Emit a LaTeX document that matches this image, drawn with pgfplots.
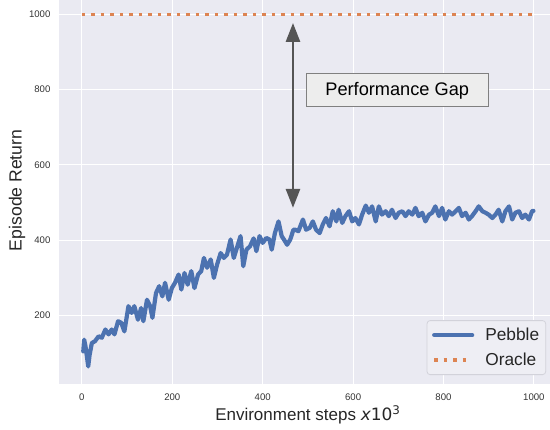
\documentclass[border=0pt]{standalone}
\usepackage{fontspec}
\setmainfont{Liberation Sans}
\newfontfamily\djv{DejaVu Sans}
\usepackage{pgfplots}
\pgfplotsset{compat=1.18}
\usetikzlibrary{arrows.meta}
\definecolor{bgc}{HTML}{EAEAF2}
\definecolor{pblue}{HTML}{4C72B0}
\definecolor{porange}{HTML}{DD8452}
\definecolor{agray}{HTML}{555555}
\definecolor{boxfill}{HTML}{EDEDED}
\definecolor{boxedge}{HTML}{808080}
\definecolor{legfill}{HTML}{EEEEF4}
\definecolor{legedge}{HTML}{D2D2DA}
\definecolor{tickc}{HTML}{333333}
\definecolor{labc}{HTML}{262626}
\begin{document}
\begin{tikzpicture}
\begin{axis}[
  at={(0,0)}, anchor=south west,
  scale only axis, width=497.2pt, height=387.3pt,
  xmin=-50, xmax=1050, ymin=18.3, ymax=1046.7,
  axis background/.style={fill=bgc},
  axis line style={draw=none},
  major tick length=0pt,
  grid=major, major grid style={white, line width=1.1pt},
  xtick={0,200,...,1000}, ytick={200,400,...,1000},
  tick label style={font=\fontsize{9.6}{11}\selectfont, text=tickc},
  /pgf/number format/assume math mode=true,
  /pgf/number format/1000 sep={},
  xticklabel style={yshift=-6pt},
  yticklabel style={xshift=-5.4pt},
  xlabel={Environment steps {\djv\itshape x}{\djv 10}\textsuperscript{\djv 3}},
  ylabel={Episode Return},
  xlabel style={font=\fontsize{17}{20}\selectfont, text=labc, at={(axis description cs:0.5,-0.0955)}, anchor=base},
  ylabel style={font=\fontsize{17.6}{20}\selectfont, text=labc, at={(axis description cs:-0.076,0.5)}, anchor=base},
  legend style={at={(axis description cs:0.979,0.0232)}, anchor=south east,
    fill=legfill, draw=legedge, line width=0.8pt, rounded corners=3pt,
    inner xsep=5pt, inner ysep=6.5pt, font=\fontsize{17.3}{20}\selectfont, text=labc,
    nodes={inner sep=1.5pt, text height=12pt, text depth=1pt}, row sep=9pt,
    /tikz/every odd column/.append style={column sep=9.5pt}},
  legend cell align=left,
  legend image code/.code={\draw[#1] (0pt,0pt) -- (38pt,0pt);},
]
\addplot[pblue, line width=4.2pt, line join=round, line cap=round] coordinates {
(3,105) (5,136) (8,118) (11,92) (14,65) (17,95) (22,127) (29,132) (37,145) (44,141)
(52,163) (59,150) (66,163) (72,150) (80,185) (87,181) (94,158) (103,225) (110,207) (116,225)
(124,189) (131,220) (136,185) (144,242) (151,225) (156,194) (164,260) (171,278) (178,251) (184,287)
(192,242) (199,273) (206,287) (214,309) (220,269) (227,313) (234,282) (242,318) (249,273) (257,309)
(264,318) (270,353) (277,327) (285,349) (292,300) (299,335) (307,366) (314,353) (321,362) (329,402)
(336,353) (344,384) (351,411) (357,331) (364,375) (372,384) (380,405) (386,371) (393,411) (400,393)
(408,406) (415,402) (420,375) (427,419) (435,450) (442,411) (448,400)
(454,388) (461,402) (468,428) (472,428) (479,424) (489,455) (496,428) (504,433) (511,450) (518,428)
(526,419) (533,442) (540,459) (548,437) (555,477) (563,450) (568,481) (576,446) (583,464) (591,477)
(598,450) (605,459) (613,442) (620,468) (628,492) (635,473) (642,490) (650,450) (657,490) (664,468)
(672,477) (679,464) (686,481) (694,459) (701,473) (709,477) (716,464) (723,477) (731,468) (738,486)
(745,464) (753,473) (760,450) (768,468) (775,473) (782,490) (790,464) (797,486) (804,455) (812,477)
(819,468) (827,477) (834,486) (841,464) (849,473) (856,455) (863,464) (871,477) (878,490) (886,477)
(893,473) (900,468) (908,459) (915,468) (922,481) (930,450) (937,477) (945,490) (952,455) (959,473)
(967,477) (974,459) (981,468) (989,455) (996,477) (999,478)
};
\addlegendentry{Pebble}
\addplot[porange, line width=3.5pt, dash pattern=on 3.5pt off 6pt, line cap=butt] coordinates {(0,1000) (1000,1000)};
\addlegendentry{Oracle}
\draw[agray, line width=2.7pt, {Triangle[length=19pt,width=14pt]}-{Triangle[length=19pt,width=14pt]}] (axis cs:467,486) -- (axis cs:467,977);
\node[draw=boxedge, fill=boxfill, line width=0.9pt, minimum width=182pt, minimum height=33pt, font=\fontsize{18.2}{20}\selectfont, inner sep=0pt, text=black] at (axis cs:697.6,798) {Performance Gap};
\end{axis}
\pgfresetboundingbox
\useasboundingbox (-59.3pt,-46pt) rectangle (490.7pt,384pt);
\end{tikzpicture}
\end{document}
